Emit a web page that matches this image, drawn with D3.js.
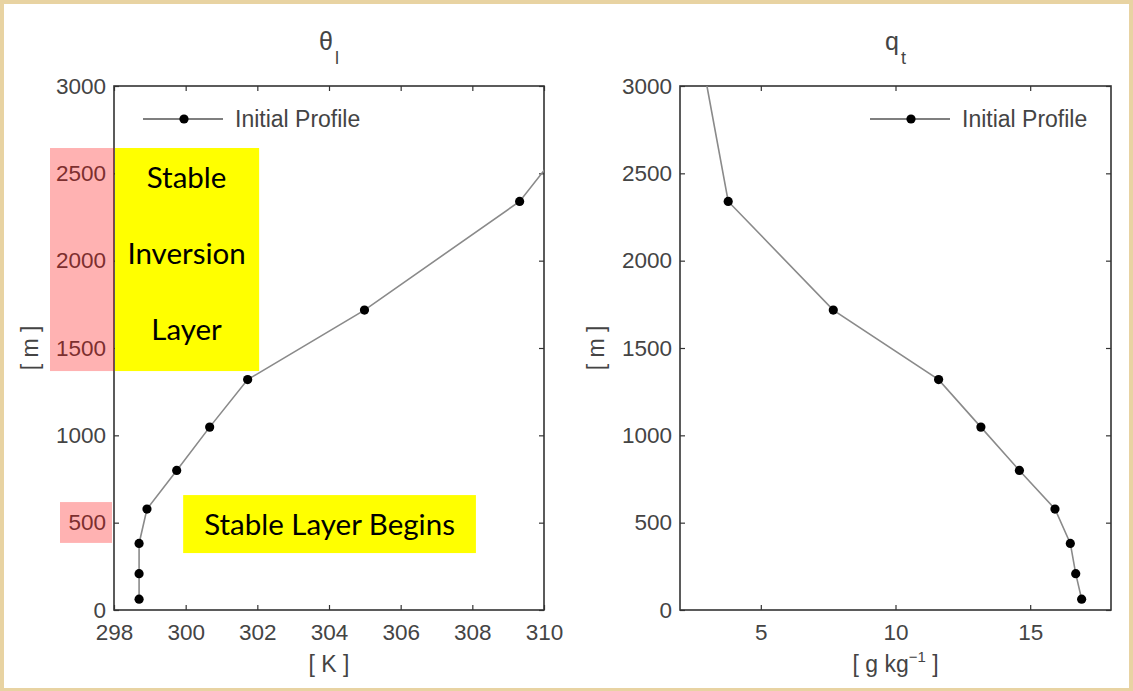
<!DOCTYPE html>
<html>
<head>
<meta charset="utf-8">
<script src="https://cdn.jsdelivr.net/npm/d3@7"></script>
<style>
	body { margin: 0; background: #e8d3a2; }
	svg { display: block; }
	.tick text { font-family: "Liberation Sans", Arial, sans-serif; font-size: 22.5px; fill: #444; }
	.tick line { stroke: #333; stroke-width: 1.2; }
	.lbl { font-family: "Liberation Sans", Arial, sans-serif; fill: #444; }
	.note { font-family: Lato, "Open Sans", sans-serif; fill: #000; }
</style>
</head>
<body>
<div id="chart"></div>
<script>
// heights of the initial profile levels [m]
const heights = [62, 208, 381, 578, 799, 1047, 1319, 1717, 2339, 3000];
// liquid water potential temperature [K]
const thetaL = [298.70, 298.70, 298.70, 298.92, 299.75, 300.67, 301.73, 304.99, 309.32, 311.85];
// total water mixing ratio [g/kg]
const qt = [16.91, 16.69, 16.49, 15.92, 14.60, 13.17, 11.60, 7.69, 3.79, 3.00];

const yTicks = [0, 500, 1000, 1500, 2000, 2500, 3000];
const thetaTicks = [298, 300, 302, 304, 306, 308, 310];
const qtTicks = [5, 10, 15];

const width = 1133, height = 691;

const svg = d3.select("#chart").append("svg")
	.attr("width", width)
	.attr("height", height);

// white slide panel over the textured background
svg.append("rect")
	.attr("x", 4).attr("y", 4)
	.attr("width", 1125).attr("height", 684)
	.attr("fill", "#fff");

const yScale = d3.scaleLinear().domain([0, 3000]).range([610, 86]);
const fmt = d3.format("d");

function drawPanel(opts) {
	let x = d3.scaleLinear().domain(opts.domain).range(opts.range);
	let g = svg.append("g");

	let clipId = `clip-${opts.name}`;
	g.append("clipPath").attr("id", clipId)
		.append("rect")
		.attr("x", opts.range[0]).attr("y", yScale(3000))
		.attr("width", opts.range[1] - opts.range[0])
		.attr("height", yScale(0) - yScale(3000));

	// axes, ticks point inwards on all four sides
	g.append("g").attr("transform", `translate(0,${yScale(0)})`)
		.call(d3.axisBottom(x).tickValues(opts.ticks).tickFormat(fmt).tickSizeInner(-5).tickSizeOuter(0).tickPadding(14))
		.call(a => a.select(".domain").remove());
	g.append("g").attr("transform", `translate(0,${yScale(3000)})`)
		.call(d3.axisTop(x).tickValues(opts.ticks).tickSizeInner(-5).tickSizeOuter(0).tickFormat(""))
		.call(a => a.select(".domain").remove());
	g.append("g").attr("transform", `translate(${opts.range[0]},0)`)
		.call(d3.axisLeft(yScale).tickValues(yTicks).tickFormat(fmt).tickSizeInner(-5).tickSizeOuter(0).tickPadding(8))
		.call(a => a.select(".domain").remove());
	g.append("g").attr("transform", `translate(${opts.range[1]},0)`)
		.call(d3.axisRight(yScale).tickValues(yTicks).tickSizeInner(-5).tickSizeOuter(0).tickFormat(""))
		.call(a => a.select(".domain").remove());

	g.append("rect")
		.attr("x", opts.range[0]).attr("y", yScale(3000))
		.attr("width", opts.range[1] - opts.range[0])
		.attr("height", yScale(0) - yScale(3000))
		.attr("fill", "none").attr("stroke", "#333").attr("stroke-width", 1.6);

	let rows = heights.map((z, i) => ({ z: z, v: opts.values[i] }));

	let plot = g.append("g").attr("clip-path", `url(#${clipId})`);
	plot.append("path")
		.datum(rows)
		.attr("fill", "none")
		.attr("stroke", "#8a8a8a")
		.attr("stroke-width", 1.6)
		.attr("d", d3.line().x(d => x(d.v)).y(d => yScale(d.z)));

	// the top level sits on the frame and carries no marker
	plot.selectAll("circle")
		.data(rows.filter(d => d.z < 3000))
		.enter()
		.append("circle")
		.attr("cx", d => x(d.v))
		.attr("cy", d => yScale(d.z))
		.attr("r", 4.6)
		.attr("fill", "#000");

	// legend
	let lx = opts.legendX, ly = 119;
	g.append("line")
		.attr("x1", lx).attr("x2", lx + 80)
		.attr("y1", ly).attr("y2", ly)
		.attr("stroke", "#555").attr("stroke-width", 1.4);
	g.append("circle").attr("cx", lx + 41).attr("cy", ly).attr("r", 4.6).attr("fill", "#000");
	g.append("text").attr("class", "lbl")
		.attr("x", lx + 92).attr("y", ly + 8)
		.attr("font-size", 23)
		.text("Initial Profile");

	let cx = (opts.range[0] + opts.range[1]) / 2;

	// title with subscript
	let title = g.append("text").attr("class", "lbl")
		.attr("x", cx).attr("y", 50)
		.attr("text-anchor", "middle")
		.attr("font-size", 25);
	title.append("tspan").text(opts.title[0]);
	title.append("tspan").attr("font-size", 18).attr("dy", 14).attr("dx", 2).text(opts.title[1]);

	// axis labels
	let xl = g.append("text").attr("class", "lbl")
		.attr("x", cx).attr("y", 672)
		.attr("text-anchor", "middle")
		.attr("font-size", 23);
	opts.xLabel(xl);

	g.append("text").attr("class", "lbl")
		.attr("transform", `translate(${opts.range[0] - 76},${yScale(1500)}) rotate(-90)`)
		.attr("text-anchor", "middle")
		.attr("font-size", 23)
		.attr("xml:space", "preserve")
		.text("[ m ]");

	return x;
}

const xTheta = drawPanel({
	name: "theta", domain: [298, 310], range: [114, 544], ticks: thetaTicks,
	values: thetaL, legendX: 143, title: ["\u03b8", "l"],
	xLabel: t => t.text("[ K ]")
});

drawPanel({
	name: "qt", domain: [2, 18], range: [680, 1111], ticks: qtTicks,
	values: qt, legendX: 870, title: ["q", "t"],
	xLabel: t => {
		t.append("tspan").text("[ g kg");
		t.append("tspan").attr("font-size", 15).attr("dy", -10).text("\u22121");
		t.append("tspan").attr("dy", 10).text(" ]");
	}
});

// annotations laid over the left panel
const inversionBand = [1368, 2645];  // m
const inversionRight = 302.05;       // K
const stableBox = { x: [299.93, 308.1], z: [326, 658] };
const stableLabelBand = [384, 618];  // m, highlight on the "500" tick label

const ann = svg.append("g");

// yellow block for the inversion layer
ann.append("rect")
	.attr("x", xTheta(298) + 1).attr("y", yScale(inversionBand[1]))
	.attr("width", xTheta(inversionRight) - xTheta(298) - 1)
	.attr("height", yScale(inversionBand[0]) - yScale(inversionBand[1]))
	.attr("fill", "#ffff00");

// translucent red over the tick labels
ann.append("rect")
	.attr("x", 50).attr("y", yScale(inversionBand[1]))
	.attr("width", xTheta(298) - 50)
	.attr("height", yScale(inversionBand[0]) - yScale(inversionBand[1]))
	.attr("fill", "rgba(255,0,0,0.3)");
ann.append("rect")
	.attr("x", 60).attr("y", yScale(stableLabelBand[1]))
	.attr("width", xTheta(298) - 62)
	.attr("height", yScale(stableLabelBand[0]) - yScale(stableLabelBand[1]))
	.attr("fill", "rgba(255,0,0,0.3)");

const inversionWords = ["Stable", "Inversion", "Layer"];
const icx = (xTheta(298) + xTheta(inversionRight)) / 2;
ann.selectAll("text.inv")
	.data(inversionWords)
	.enter()
	.append("text")
	.attr("class", "note inv")
	.attr("x", icx)
	.attr("y", (d, i) => yScale(inversionBand[1]) + 40 + i * 76)
	.attr("text-anchor", "middle")
	.attr("font-size", 29.5)
	.text(d => d);

ann.append("rect")
	.attr("x", xTheta(stableBox.x[0])).attr("y", yScale(stableBox.z[1]))
	.attr("width", xTheta(stableBox.x[1]) - xTheta(stableBox.x[0]))
	.attr("height", yScale(stableBox.z[0]) - yScale(stableBox.z[1]))
	.attr("fill", "#ffff00");
ann.append("text").attr("class", "note")
	.attr("x", (xTheta(stableBox.x[0]) + xTheta(stableBox.x[1])) / 2)
	.attr("y", yScale((stableBox.z[0] + stableBox.z[1]) / 2) + 11)
	.attr("text-anchor", "middle")
	.attr("font-size", 29.5)
	.text("Stable Layer Begins");
</script>
</body>
</html>
